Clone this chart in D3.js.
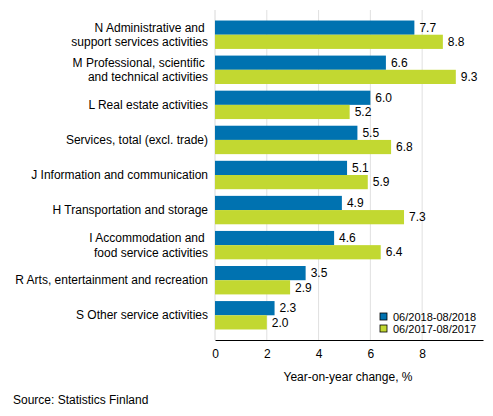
<!DOCTYPE html>
<html>
<head>
<meta charset="utf-8">
<script src="https://cdn.jsdelivr.net/npm/d3@7"></script>
<style>
  body { margin: 0; background: #fff; }
  svg text { font-family: "Liberation Sans", Arial, sans-serif; fill: #000; }
</style>
</head>
<body>
<div class="chart"></div>
<script>
// chart data
const categories = [
  ['N Administrative and ', 'support services activities'],
  ['M Professional, scientific ', 'and technical activities'],
  ['L Real estate activities'],
  ['Services, total (excl. trade)'],
  ['J Information and communication'],
  ['H Transportation and storage'],
  ['I Accommodation and ', 'food service activities'],
  ['R Arts, entertainment and recreation'],
  ['S Other service activities']
];
const series2018 = [7.7, 6.6, 6.0, 5.5, 5.1, 4.9, 4.6, 3.5, 2.3];
const series2017 = [8.8, 9.3, 5.2, 6.8, 5.9, 7.3, 6.4, 2.9, 2.0];
const seriesNames = ['06/2018-08/2018', '06/2017-08/2017'];
const xTicks = [0, 2, 4, 6, 8];

const width = 493;
const height = 416;
const margin = { top: 10, right: 10, bottom: 76, left: 215 };
const colors = ['#0072b0', '#c2d831'];

const svg = d3.select('.chart')
  .append('svg')
    .attr('width', width)
    .attr('height', height);

const x = d3.scaleLinear()
  .domain([0, 10.35])
  .range([margin.left, width - margin.right]);

const y = d3.scaleBand()
  .domain(d3.range(categories.length))
  .range([margin.top, height - margin.bottom])
  .paddingInner(0.19)
  .paddingOuter(0.3);

const inner = d3.scaleBand()
  .domain([0, 1])
  .range([0, y.bandwidth()]);

// grid
svg.append('g')
  .selectAll('line')
  .data(xTicks.slice(1))
  .join('line')
    .attr('x1', d => x(d)).attr('x2', d => x(d))
    .attr('y1', margin.top).attr('y2', height - margin.bottom)
    .attr('stroke', '#e0e0e0');

svg.append('line')
  .attr('x1', x(0)).attr('x2', x(0))
  .attr('y1', margin.top).attr('y2', height - margin.bottom)
  .attr('stroke', '#d8d8d8');

// bars
const groups = svg.append('g')
  .selectAll('g')
  .data(categories.map((c, i) => [series2018[i], series2017[i]]))
  .join('g')
    .attr('transform', (d, i) => `translate(0,${y(i)})`);

groups.selectAll('rect')
  .data(d => d)
  .join('rect')
    .attr('x', x(0))
    .attr('y', (d, j) => inner(j))
    .attr('width', d => x(d) - x(0))
    .attr('height', inner.bandwidth())
    .attr('fill', (d, j) => colors[j]);

groups.selectAll('text')
  .data(d => d)
  .join('text')
    .attr('x', d => x(d) + 5)
    .attr('y', (d, j) => inner(j) + inner.bandwidth() / 2)
    .attr('dy', '0.35em')
    .style('font-size', '12px')
    .text(d => d.toFixed(1));

// category labels
const labels = svg.append('g')
  .selectAll('text')
  .data(categories)
  .join('text')
    .attr('x', margin.left - 7)
    .attr('y', (d, i) => y(i) + y.bandwidth() / 2)
    .attr('text-anchor', 'end')
    .style('font-size', '12px');

labels.selectAll('tspan')
  .data(d => d)
  .join('tspan')
    .attr('x', margin.left - 7)
    .attr('dy', (t, k, arr) => k === 0 ? (arr.length > 1 ? '-0.25em' : '0.35em') : '1.2em')
    .attr('xml:space', 'preserve')
    .text(t => t);

// x axis
const xAxis = svg.append('g')
  .attr('transform', `translate(0,${height - margin.bottom})`)
  .call(d3.axisBottom(x).tickValues(xTicks).tickSize(0).tickPadding(9));
xAxis.select('.domain').attr('stroke', '#000');
xAxis.selectAll('text')
  .style('font-size', '12px')
  .style('font-family', '"Liberation Sans", Arial, sans-serif');

svg.append('text')
  .attr('x', 348)
  .attr('y', 381)
  .attr('text-anchor', 'middle')
  .style('font-size', '12px')
  .text('Year-on-year change, %');

svg.append('text')
  .attr('x', 13)
  .attr('y', 404)
  .style('font-size', '12px')
  .text('Source: Statistics Finland');

// legend
const legend = svg.append('g')
  .selectAll('g')
  .data(seriesNames)
  .join('g')
    .attr('transform', (d, i) => `translate(380,${313 + i * 12})`);

legend.append('rect')
  .attr('width', 7).attr('height', 7)
  .attr('fill', (d, i) => colors[i])
  .attr('stroke', '#000')
  .attr('stroke-width', 0.8);

legend.append('text')
  .attr('x', 13)
  .attr('y', 4)
  .attr('dy', '0.35em')
  .style('font-size', '11px')
  .text(d => d);
</script>
</body>
</html>
